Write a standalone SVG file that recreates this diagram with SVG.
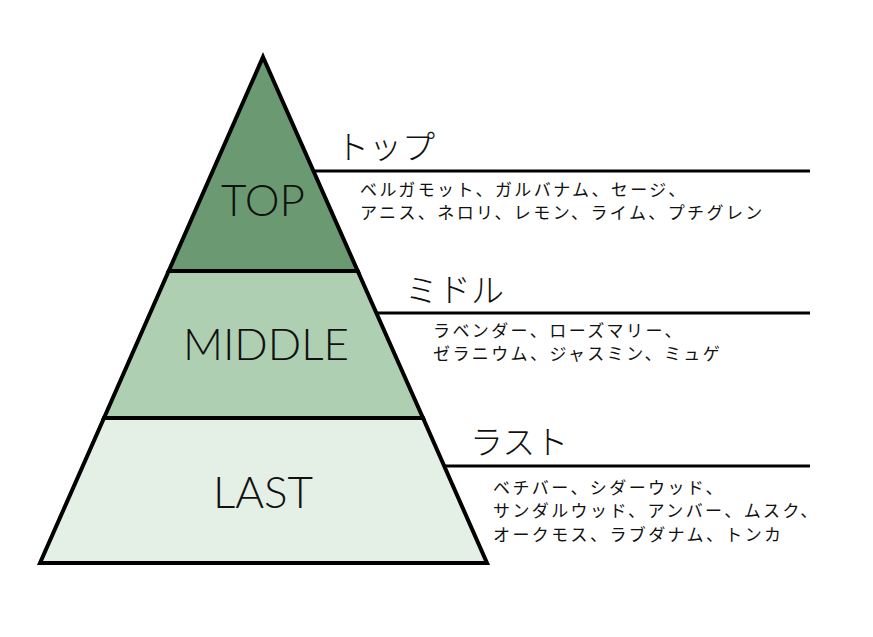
<svg xmlns="http://www.w3.org/2000/svg" width="873" height="637" viewBox="0 0 873 637">
<style>
.band{stroke:#000;stroke-width:4;stroke-linejoin:miter}
.lbl{font-family:"Lato Light","Lato","Noto Sans",sans-serif;font-weight:300;font-size:44px;fill:#111;text-anchor:middle}
.hd{font-family:"Noto Sans CJK JP",sans-serif;font-size:33px;fill:#111;font-weight:300}
.tx{font-family:"Noto Sans CJK JP",sans-serif;font-size:17px;fill:#111;letter-spacing:2.4px}
.ln{stroke:#000;stroke-width:3}
</style>
<rect width="873" height="637" fill="#fff"/>
<g id="top">
<polygon class="band" points="263,57 357.7,271 168.7,271" fill="#6b9a72"/>
<text class="lbl" x="263" y="216">TOP</text>
</g>
<g id="middle">
<polygon class="band" points="168.7,271 357.7,271 423,418 104,418" fill="#aecfb2"/>
<text class="lbl" x="266" y="360">MIDDLE</text>
</g>
<g id="last">
<polygon class="band" points="104,418 423,418 487,563 40,563" fill="#e4efe5"/>
<text class="lbl" x="263" y="508">LAST</text>
</g>
<g id="connectors">
<line class="ln" x1="313" y1="171" x2="810" y2="171"/>
<line class="ln" x1="376" y1="313" x2="810" y2="313"/>
<line class="ln" x1="444" y1="466" x2="810" y2="466"/>
</g>
<g id="top-notes">
<text class="hd" x="336" y="159">トップ</text>
<text class="tx" x="360" y="196">ベルガモット、ガルバナム、セージ、</text>
<text class="tx" x="360" y="219">アニス、ネロリ、レモン、ライム、プチグレン</text>
</g>
<g id="middle-notes">
<text class="hd" x="405" y="302">ミドル</text>
<text class="tx" x="433" y="337">ラベンダー、ローズマリー、</text>
<text class="tx" x="433" y="360">ゼラニウム、ジャスミン、ミュゲ</text>
</g>
<g id="last-notes">
<text class="hd" x="470" y="454">ラスト</text>
<text class="tx" x="493" y="494">ベチバー、シダーウッド、</text>
<text class="tx" x="493" y="517">サンダルウッド、アンバー、ムスク、</text>
<text class="tx" x="493" y="541">オークモス、ラブダナム、トンカ</text>
</g>
</svg>
